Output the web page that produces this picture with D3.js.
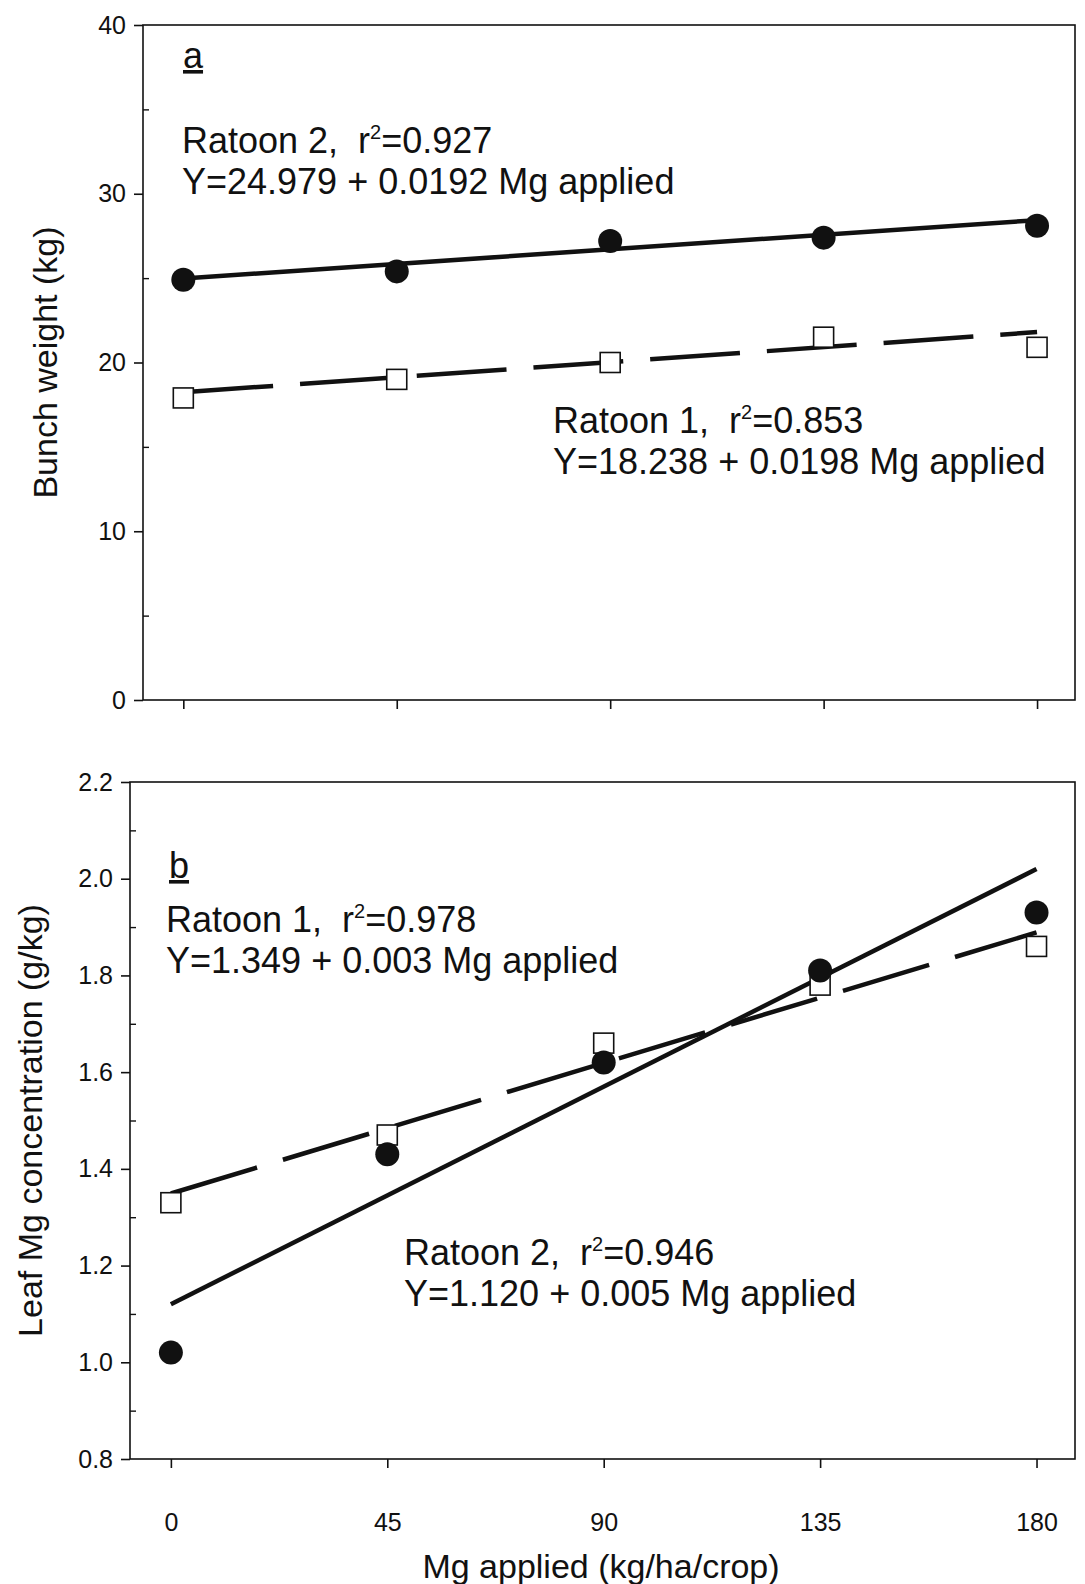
<!DOCTYPE html>
<html>
<head>
<meta charset="utf-8">
<script src="https://cdn.jsdelivr.net/npm/d3@7"></script>
<style>
  body { margin: 0; background: #fff; }
  svg { display: block; font-family: "Liberation Sans", Arial, sans-serif; }
  .tick text { fill: #111; }
</style>
</head>
<body>
<div id="chart"></div>
<script>
// Mg applied (x), shared by both panels
const mgApplied = [0, 45, 90, 135, 180];
const xTicks = [0, 45, 90, 135, 180];

// panel a : bunch weight (kg)
const bunchRatoon1 = [17.9, 19.0, 20.0, 21.5, 20.9];
const bunchRatoon2 = [24.9, 25.4, 27.2, 27.4, 28.1];
const bunchTicks = [0, 10, 20, 30, 40];
const bunchMinor = [5, 15, 25, 35];
const bunchFit1 = [18.238, 0.0198];
const bunchFit2 = [24.979, 0.0192];

// panel b : leaf Mg concentration (g/kg)
const leafRatoon1 = [1.33, 1.47, 1.66, 1.78, 1.86];
const leafRatoon2 = [1.02, 1.43, 1.62, 1.81, 1.93];
const leafTicks = [0.8, 1.0, 1.2, 1.4, 1.6, 1.8, 2.0, 2.2];
const leafMinor = [0.9, 1.1, 1.3, 1.5, 1.7, 1.9, 2.1];
const leafFit1 = [1.349, 0.003];
const leafFit2 = [1.120, 0.005];

const W = 1085, H = 1584;
const svg = d3.select("#chart").append("svg")
  .attr("width", W)
  .attr("height", H);

function panel(opt) {
  const x = d3.scaleLinear().domain([-8.5, 188]).range([opt.left, 1075]);
  const y = d3.scaleLinear().domain(opt.yDomain).range([opt.bottom, opt.top]);
  const g = svg.append("g");

  // frame
  g.append("rect")
    .attr("x", opt.left).attr("y", opt.top)
    .attr("width", 1075 - opt.left).attr("height", opt.bottom - opt.top)
    .attr("fill", "none").attr("stroke", "#111").attr("stroke-width", 1.6);

  // y axis, major ticks out
  const ya = g.append("g")
    .attr("transform", `translate(${opt.left},0)`)
    .call(d3.axisLeft(y).tickValues(opt.ticks).tickSize(9).tickPadding(8)
      .tickFormat(opt.fmt));
  ya.select(".domain").remove();
  ya.selectAll("line").attr("stroke", "#111").attr("stroke-width", 1.6);
  ya.selectAll("text").style("font-size", "25px");

  // minor ticks, inside
  const ym = g.append("g")
    .attr("transform", `translate(${opt.left},0)`)
    .call(d3.axisRight(y).tickValues(opt.minor).tickSize(6).tickFormat(""));
  ym.select(".domain").remove();
  ym.selectAll("line").attr("stroke", "#111").attr("stroke-width", 1.4);

  // x axis
  const xa = g.append("g")
    .attr("transform", `translate(0,${opt.bottom})`)
    .call(d3.axisBottom(x).tickValues(xTicks).tickSize(9).tickPadding(opt.xPad)
      .tickFormat(opt.xLabels ? d3.format("d") : ""));
  xa.select(".domain").remove();
  xa.selectAll("line").attr("stroke", "#111").attr("stroke-width", 1.6);
  xa.selectAll("text").style("font-size", "25px");

  // regression lines
  const fitLine = (fit, dash) => {
    g.append("line")
      .attr("x1", x(0)).attr("y1", y(fit[0]))
      .attr("x2", x(180)).attr("y2", y(fit[0] + fit[1] * 180))
      .attr("stroke", "#111").attr("stroke-width", 4.5)
      .attr("stroke-dasharray", dash ? "90,27" : null);
  };
  fitLine(opt.fit1, true);
  fitLine(opt.fit2, false);

  // squares (ratoon 1)
  g.selectAll("rect.sq").data(opt.r1).enter().append("rect")
    .attr("class", "sq")
    .attr("x", (d, i) => x(mgApplied[i]) - 10)
    .attr("y", d => y(d) - 10)
    .attr("width", 20).attr("height", 20)
    .attr("fill", "#fff").attr("stroke", "#111").attr("stroke-width", 1.6);

  // circles (ratoon 2)
  g.selectAll("circle").data(opt.r2).enter().append("circle")
    .attr("cx", (d, i) => x(mgApplied[i]))
    .attr("cy", d => y(d))
    .attr("r", 12)
    .attr("fill", "#111");

  // y title
  g.append("text")
    .attr("transform", `translate(${opt.titleX},${(opt.top + opt.bottom) / 2}) rotate(-90)`)
    .attr("text-anchor", "middle")
    .attr("dy", "0.35em")
    .style("font-size", "34px")
    .attr("fill", "#111")
    .text(opt.title);

  return { x, y, g };
}

function label(g, x, y, txt) {
  g.append("text").attr("x", x).attr("y", y)
    .style("font-size", "36px").attr("fill", "#111")
    .text(txt);
}

function fitLabel(g, x, y, name, r2, fit, digits) {
  const t = g.append("text").attr("x", x).attr("y", y)
    .style("font-size", "36px").attr("fill", "#111")
    .attr("xml:space", "preserve");
  t.append("tspan").text(name + ",  r");
  t.append("tspan").attr("dy", -14).style("font-size", "20px").text("2");
  t.append("tspan").attr("dy", 14).text("=" + r2);
  label(g, x, y + 41,
    "Y=" + fit[0].toFixed(3) + " + " + fit[1].toFixed(digits) + " Mg applied");
}

function panelTag(g, x, y, letter) {
  g.append("text").attr("x", x).attr("y", y)
    .style("font-size", "36px").attr("fill", "#111")
    .attr("text-decoration", "underline")
    .text(letter);
}

const a = panel({
  left: 143, top: 25, bottom: 700,
  yDomain: [0, 40], ticks: bunchTicks, minor: bunchMinor, fmt: d3.format("d"),
  xLabels: false, xPad: 10,
  fit1: bunchFit1, fit2: bunchFit2, r1: bunchRatoon1, r2: bunchRatoon2,
  title: "Bunch weight (kg)", titleX: 45
});
panelTag(a.g, 183, 68, "a");
fitLabel(a.g, 182, 153, "Ratoon 2", "0.927", bunchFit2, 4);
fitLabel(a.g, 553, 433, "Ratoon 1", "0.853", bunchFit1, 4);

const b = panel({
  left: 130, top: 782, bottom: 1459,
  yDomain: [0.8, 2.2], ticks: leafTicks, minor: leafMinor, fmt: d3.format(".1f"),
  xLabels: true, xPad: 45,
  fit1: leafFit1, fit2: leafFit2, r1: leafRatoon1, r2: leafRatoon2,
  title: "Leaf Mg concentration (g/kg)", titleX: 30
});
panelTag(b.g, 169, 878, "b");
fitLabel(b.g, 166, 932, "Ratoon 1", "0.978", leafFit1, 3);
fitLabel(b.g, 404, 1265, "Ratoon 2", "0.946", leafFit2, 3);

svg.append("text")
  .attr("x", 601).attr("y", 1578)
  .attr("text-anchor", "middle")
  .style("font-size", "34px").attr("fill", "#111")
  .text("Mg applied (kg/ha/crop)");
</script>
</body>
</html>
